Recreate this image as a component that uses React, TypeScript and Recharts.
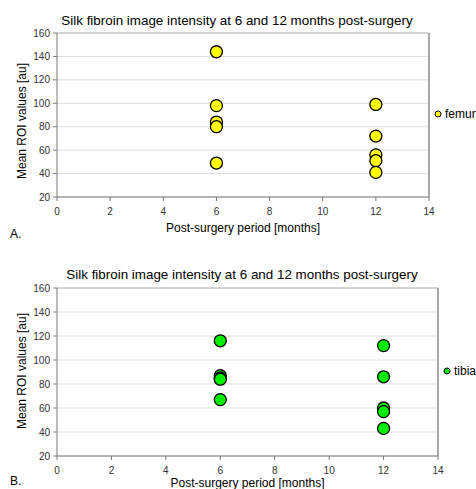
import React from "react";
import { ScatterChart, Scatter, XAxis, YAxis, CartesianGrid, ReferenceLine, Legend } from "recharts";

// months post-surgery for each measurement
const months = [6, 6, 6, 6, 6, 12, 12, 12, 12, 12];
const femurValues = [144, 98, 84, 80, 49, 99, 72, 56, 51, 41];
const tibiaValues = [116, 87, 85, 84, 67, 112, 86, 60, 57, 43];
const xTicks = [0, 2, 4, 6, 8, 10, 12, 14];
const yTicks = [20, 40, 60, 80, 100, 120, 140, 160];

const title = "Silk fibroin image intensity at 6 and 12 months post-surgery";
const xLabel = "Post-surgery period [months]";
const yLabel = "Mean ROI values [au]";

const femurData = months.map((m, i) => ({ x: m, y: femurValues[i] }));
const tibiaData = months.map((m, i) => ({ x: m, y: tibiaValues[i] }));

const dot = (fill: string) => (p: any) => (
  <circle cx={p.cx} cy={p.cy} r={6} fill={fill} stroke="#000" strokeWidth={1.3} />
);

const legendContent = (fill: string) => (props: any) => (
  <div style={{ display: "flex", alignItems: "center", fontSize: 12, color: "#000", whiteSpace: "nowrap" }}>
    {(props.payload || []).map((e: any) => (
      <React.Fragment key={e.value}>
        <svg width={8} height={8} style={{ marginRight: 3 }}>
          <circle cx={4} cy={4} r={3} fill={fill} stroke="#000" strokeWidth={1} />
        </svg>
        {e.value}
      </React.Fragment>
    ))}
  </div>
);

type PanelProps = {
  top: number; height: number; data: { x: number; y: number }[]; name: string; fill: string;
  margin: { top: number; right: number; bottom: number; left: number };
  titleX: number; titleY: number; xLabelY: number; yLabelY: number; letter: string; letterY: number;
  legendLeft: number; legendTop: number;
};

const abs = (x: number, y: number, extra: React.CSSProperties = {}): React.CSSProperties => ({
  position: "absolute", left: x, top: y, transform: "translate(-50%,-50%)", whiteSpace: "nowrap", lineHeight: 1, ...extra,
});

function Panel(p: PanelProps) {
  const plotRight = 476 - p.margin.right;
  return (
    <div style={{ position: "absolute", left: 0, top: p.top, width: 476, height: p.height, overflow: "hidden" }}>
      <ScatterChart width={476} height={p.height} margin={p.margin}>
        <CartesianGrid horizontal vertical={false} stroke="#dedede" />
        <XAxis type="number" dataKey="x" domain={[0, 14]} ticks={xTicks} height={30} tickSize={4} tickMargin={7}
          tick={{ fontSize: 10, fill: "#333" }} axisLine={{ stroke: "#7a7a7a" }} tickLine={{ stroke: "#7a7a7a" }} />
        <YAxis type="number" dataKey="y" domain={[20, 160]} ticks={yTicks} width={30} tickSize={4} tickMargin={3}
          tick={{ fontSize: 10, fill: "#333" }} axisLine={{ stroke: "#7a7a7a" }} tickLine={{ stroke: "#7a7a7a" }} />
        <ReferenceLine y={160} stroke="#b8b8b8" />
        <ReferenceLine x={14} stroke="#a8a8a8" strokeWidth={2} />
        <Legend layout="vertical" align="center" verticalAlign="middle" content={legendContent(p.fill)}
          wrapperStyle={{ left: p.legendLeft, top: p.legendTop, width: "auto" }} />
        <Scatter name={p.name} data={p.data} fill={p.fill} shape={dot(p.fill)} isAnimationActive={false} />
      </ScatterChart>
      <div style={abs(p.titleX, p.titleY, { fontSize: 13.4 })}>{title}</div>
      <div style={abs((57 + plotRight) / 2, p.xLabelY, { fontSize: 12 })}>{xLabel}</div>
      <div style={abs(22, p.yLabelY, { fontSize: 12, transform: "translate(-50%,-50%) rotate(-90deg)" })}>{yLabel}</div>
      <div style={{ position: "absolute", left: 10, top: p.letterY, fontSize: 12, lineHeight: 1 }}>{p.letter}</div>
    </div>
  );
}

export default function App() {
  return (
    <div style={{ position: "absolute", left: 0, top: 0, width: 476, height: 489, background: "#fff", fontFamily: "'Liberation Sans', Arial, sans-serif", color: "#000" }}>
      <Panel top={0} height={240} data={femurData} name="femur" fill="#ffff00"
        margin={{ top: 33, right: 47, bottom: 13, left: 27 }}
        titleX={237} titleY={21} xLabelY={228} yLabelY={121} letter="A." letterY={228}
        legendLeft={434} legendTop={107} />
      <Panel top={240} height={249} data={tibiaData} name="tibia" fill="#00ee00"
        margin={{ top: 48, right: 38, bottom: 3, left: 27 }}
        titleX={242} titleY={35} xLabelY={242.5} yLabelY={131} letter="B." letterY={235}
        legendLeft={443} legendTop={124} />
    </div>
  );
}
